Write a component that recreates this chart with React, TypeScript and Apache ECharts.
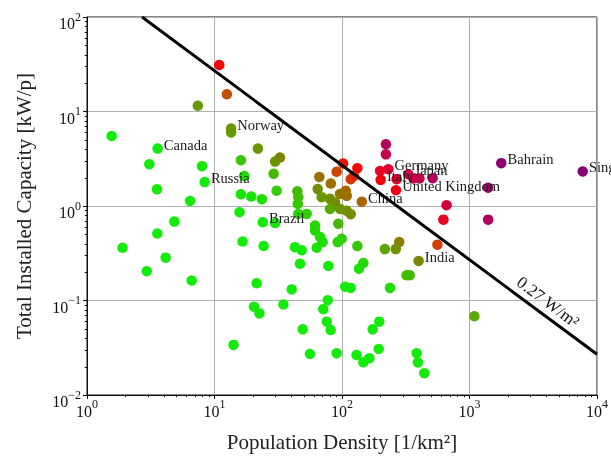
import React, { useEffect, useRef } from "react";
import * as echarts from "echarts";

// Labelled countries
const labelNames = ["Canada", "Norway", "Russia", "Brazil", "China", "India", "Germany", "Italy", "Japan", "United Kingdom", "Bahrain", "Singapore"];
const labelDensity = [3.58, 13.5, 8.37, 23.9, 143, 399, 231, 201, 331, 265, 1775, 7727];
const labelCapacity = [4.05, 6.6, 1.79, 0.673, 1.11, 0.262, 2.45, 1.89, 2.17, 1.47, 2.84, 2.32];

// Other countries: population density [1/km2] and installed capacity [kW/p]
const density = [
  10.9, 12.5, 7.4, 13.5, 1.56, 3.08, 7.98, 3.54, 6.43, 16.1,
  21.9, 29.9, 32.6, 29.1, 17.1, 30.7, 16.1, 19.4, 23.5, 44.6,
  45.4, 66.4, 64.5, 81.7, 102, 90.8, 132, 117, 124, 107,
  96.5, 109, 69.2, 80.5, 88.2, 45, 80.5, 109, 117, 61.4,
  61.4, 67.2, 93.5, 99.4, 132, 42.8, 48.3, 217, 281, 264,
  221, 221, 199, 363, 405, 514, 661, 624, 1400, 1400,
  268, 560, 321, 340, 238, 106, 117, 147, 136, 1091,
  196, 174, 194, 164, 147, 130, 385, 394, 442, 46.8,
  78.1, 40.3, 34.7, 77.3, 71.3, 75.9, 81.5, 49.2, 56, 90.8,
  15.7, 29.9, 4.84, 3.56, 1.9, 4.14, 2.94, 6.62, 16.6, 24.3,
  21.4, 20.4, 22.5, 14.1, 45.4, 52.8, 63.3, 92.5, 96.5, 70.5,
];
const capacity = [
  31, 15.2, 11.5, 6.0, 5.5, 2.77, 2.64, 1.5, 1.13, 3.05,
  4.05, 2.95, 3.26, 2.19, 2.08, 1.45, 1.33, 1.26, 1.18, 1.43,
  1.24, 2.03, 1.51, 1.73, 2.82, 2.3, 2.51, 1.92, 2.08, 1.45,
  1.34, 1.28, 1.24, 1.19, 1.09, 1.05, 0.93, 0.89, 0.82, 0.62,
  0.55, 0.47, 0.65, 0.45, 0.377, 0.367, 0.34, 0.35, 0.415, 0.35,
  4.5, 3.52, 2.35, 1.96, 1.96, 1.97, 1.02, 0.717, 1.56, 0.717,
  1.92, 0.389, 0.185, 0.185, 0.136, 0.14, 0.136, 0.249, 0.217, 0.068,
  0.0597, 0.0495, 0.0307, 0.0245, 0.0222, 0.0265, 0.0277, 0.0221, 0.017, 0.245,
  0.232, 0.131, 0.0908, 0.1007, 0.081, 0.0597, 0.0487, 0.0495, 0.0272, 0.0277,
  0.859, 0.66, 0.684, 0.511, 0.361, 0.284, 0.204, 0.163, 0.421, 0.377,
  0.152, 0.086, 0.073, 0.0339, 0.824, 0.824, 0.361, 0.415, 0.93, 0.415,
];

const xRange = [1, 10000];
const yRange = [0.01, 100];
const LIMIT = 270; // kW/km^2 = 0.27 W/m^2
const limitLabel = "0.27 W/m²";
const xTitle = "Population Density [1/km²]";
const yTitle = "Total Installed Capacity [kW/p]";

const FONT = '"Liberation Serif", "Times New Roman", serif';

// colour as a function of log10(power density)
const colorStops: [number, number[]][] = [
  [1.2, [20, 235, 10]],
  [1.5, [30, 222, 0]],
  [1.8, [70, 185, 0]],
  [2.0, [118, 138, 0]],
  [2.2, [170, 100, 0]],
  [2.35, [212, 60, 0]],
  [2.5, [245, 5, 0]],
  [2.75, [222, 0, 50]],
  [3.0, [178, 0, 92]],
  [3.5, [145, 0, 108]],
  [4.5, [132, 0, 118]],
];
function colorFor(v: number): string {
  if (v <= colorStops[0][0]) return `rgb(${colorStops[0][1].join(",")})`;
  for (let i = 1; i < colorStops.length; i++) {
    const [v1, c1] = colorStops[i];
    const [v0, c0] = colorStops[i - 1];
    if (v <= v1) {
      const t = (v - v0) / (v1 - v0);
      const c = c0.map((a, k) => Math.round(a + (c1[k] - a) * t));
      return `rgb(${c.join(",")})`;
    }
  }
  return `rgb(${colorStops[colorStops.length - 1][1].join(",")})`;
}

function minorTicks(lo: number, hi: number): number[] {
  const out: number[] = [];
  for (let d = lo; d < hi * 0.999; d *= 10) {
    for (let k = 2; k <= 9; k++) out.push(k * d);
  }
  return out;
}

const powLabel = (value: number) => {
  const e = Math.round(Math.log10(value));
  const s = e < 0 ? "−" + -e : "" + e;
  return `{b|10}{s|${s}}`;
};
const rich = {
  b: { fontSize: 16, fontFamily: FONT, color: "#111", lineHeight: 21, verticalAlign: "bottom" },
  s: { fontSize: 12, fontFamily: FONT, color: "#111", lineHeight: 12, verticalAlign: "top" },
};

export default function App() {
  const ref = useRef<HTMLDivElement>(null);
  useEffect(() => {
    if (!ref.current) return;
    const chart = echarts.init(ref.current, undefined, { renderer: "svg" });

    const plain = density.map((x, i) => ({ value: [x, capacity[i]] }));
    const labelled = labelNames.map((n, i) => ({
      name: n,
      value: [labelDensity[i], labelCapacity[i]],
      label: { show: true },
    }));

    const axisCommon = {
      type: "log" as const,
      logBase: 10,
      axisLine: { show: true, onZero: false, lineStyle: { color: "#111", width: 1 } },
      axisTick: { show: true, length: 4, lineStyle: { color: "#111", width: 1 } },
      splitLine: { show: true, lineStyle: { color: "#b0b0b0", width: 1 } },
    };

    chart.setOption({
      animation: false,
      grid: { left: 87, right: 14, top: 17, bottom: 60, show: true, borderColor: "#111", borderWidth: 1 },
      xAxis: {
        ...axisCommon,
        min: xRange[0],
        max: xRange[1],
        position: "bottom",
        name: xTitle,
        nameLocation: "middle",
        nameGap: 36,
        nameTextStyle: { fontFamily: FONT, fontSize: 21, color: "#222" },
        axisLabel: { formatter: powLabel, rich, margin: 3 },
      },
      yAxis: {
        ...axisCommon,
        min: yRange[0],
        max: yRange[1],
        position: "left",
        name: yTitle,
        nameLocation: "middle",
        nameGap: 53,
        nameTextStyle: { fontFamily: FONT, fontSize: 21, color: "#222" },
        axisLabel: { formatter: powLabel, rich, margin: 6, padding: [8, 0, 0, 0] },
      },
      series: [
        {
          type: "scatter",
          symbol: "circle",
          symbolSize: 10.5,
          data: [...plain, ...labelled],
          itemStyle: {
            opacity: 1,
            color: (p: any) => colorFor(Math.log10(p.value[0] * p.value[1])),
          },
          label: {
            show: false,
            position: "right",
            distance: 1,
            offset: [0, -4],
            formatter: (p: any) => p.name,
            fontFamily: FONT,
            fontSize: 14.5,
            color: "#1a1a1a",
          },
          z: 2,
        },
        {
          type: "line",
          data: [
            [LIMIT / yRange[1], yRange[1]],
            [xRange[1], LIMIT / xRange[1]],
          ],
          symbol: "none",
          lineStyle: { color: "#000", width: 3 },
          z: 3,
        },
      ],
    });

    // minor ticks at 2..9 × each decade, placed through the axes' own scales
    const x0 = chart.convertToPixel({ xAxisIndex: 0 }, xRange[0]) as number;
    const yBottom = chart.convertToPixel({ yAxisIndex: 0 }, yRange[0]) as number;
    const tickStyle = { stroke: "#111", lineWidth: 1 };
    const minorX = minorTicks(xRange[0], xRange[1]).map((v) => {
      const px = Math.round(chart.convertToPixel({ xAxisIndex: 0 }, v) as number) + 0.5;
      return { type: "line", silent: true, shape: { x1: px, y1: yBottom, x2: px, y2: yBottom + 2.2 }, style: tickStyle };
    });
    const minorY = minorTicks(yRange[0], yRange[1]).map((v) => {
      const py = Math.round(chart.convertToPixel({ yAxisIndex: 0 }, v) as number) + 0.5;
      return { type: "line", silent: true, shape: { x1: x0 - 2.2, y1: py, x2: x0, y2: py }, style: tickStyle };
    });

    chart.setOption({
      graphic: [
        ...minorX,
        ...minorY,
        {
          type: "text",
          x: 548,
          y: 302,
          rotation: -0.643,
          style: {
            text: limitLabel,
            align: "center",
            verticalAlign: "middle",
            fontFamily: FONT,
            fontSize: 17,
            fill: "#111",
          },
          z: 10,
        },
      ],
    });
    return () => chart.dispose();
  }, []);
  return <div ref={ref} style={{ position: "fixed", left: 0, top: 0, width: 611, height: 457 }} />;
}
